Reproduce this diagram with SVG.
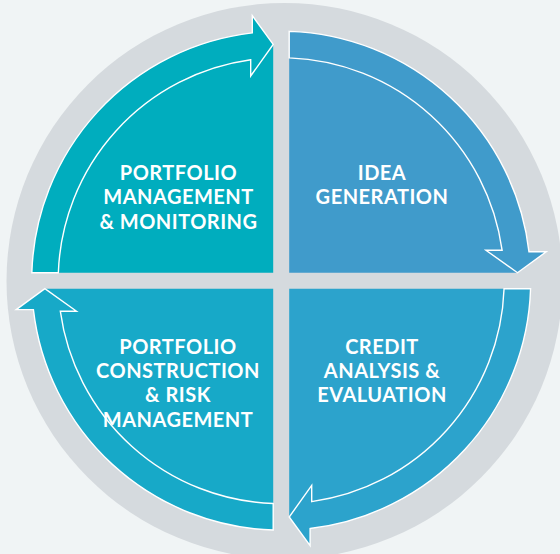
<svg xmlns="http://www.w3.org/2000/svg" width="560" height="554" viewBox="0 0 560 554">
  <defs>
    <style>
      .lbl { font-family: Lato, "Open Sans", "Liberation Sans", sans-serif; font-weight: 700; font-size: 20px; fill: #ffffff; text-anchor: middle; letter-spacing: 0.5px; }
      .outline { fill: none; stroke: #ffffff; stroke-width: 1.4; stroke-linejoin: miter; }
    </style>
    <path id="qfill" d="M -8,-8 L -249.37,-8 A 249.5 249.5 0 0 1 -28.9,-247.8 L -28.9,-265 L -8,-236.3 Z"/>
    <path id="qline" d="M -249.37,-8 A 249.5 249.5 0 0 1 -28.9,-247.8 L -28.9,-265 L -8,-236.3 L -30.5,-204.7 L -30.5,-220.9 A 223 223 0 0 0 -222.86,-8 Z"/>
  </defs>
  <rect x="0" y="0" width="560" height="554" fill="#f0f4f5"/>
  <circle cx="284.5" cy="281" r="278" fill="#d5dade"/>

  <g id="node-portfolio-management">
    <use href="#qfill" transform="translate(281.2,280.7)" fill="#00adbe"/>
    <text class="lbl" x="178.5" y="180">PORTFOLIO</text>
    <text class="lbl" x="178.5" y="204.3">MANAGEMENT</text>
    <text class="lbl" x="178.5" y="228.6">&amp; MONITORING</text>
  </g>
  <g id="node-idea-generation">
    <use href="#qfill" transform="translate(281.2,280.7) rotate(90)" fill="#409bcb"/>
    <text class="lbl" x="382" y="180">IDEA</text>
    <text class="lbl" x="382" y="203.5">GENERATION</text>
  </g>
  <g id="node-credit-analysis">
    <use href="#qfill" transform="translate(281.2,280.7) rotate(180)" fill="#2ca3cc"/>
    <text class="lbl" x="382" y="354">CREDIT</text>
    <text class="lbl" x="382" y="378">ANALYSIS &amp;</text>
    <text class="lbl" x="382" y="402">EVALUATION</text>
  </g>
  <g id="node-portfolio-construction">
    <use href="#qfill" transform="translate(281.2,280.7) rotate(270)" fill="#17a9c8"/>
  </g>

  <g id="connectors">
    <use href="#qline" class="outline" transform="translate(281.2,280.7)"/>
    <use href="#qline" class="outline" transform="translate(281.2,280.7) rotate(90)"/>
    <use href="#qline" class="outline" transform="translate(281.2,280.7) rotate(180)"/>
    <use href="#qline" class="outline" transform="translate(281.2,280.7) rotate(270)"/>
  </g>

  <g id="node-portfolio-construction-label">
    <text class="lbl" x="178" y="354">PORTFOLIO</text>
    <text class="lbl" x="178" y="378">CONSTRUCTION</text>
    <text class="lbl" x="178" y="402">&amp; RISK</text>
    <text class="lbl" x="178" y="426.5">MANAGEMENT</text>
  </g>
</svg>
